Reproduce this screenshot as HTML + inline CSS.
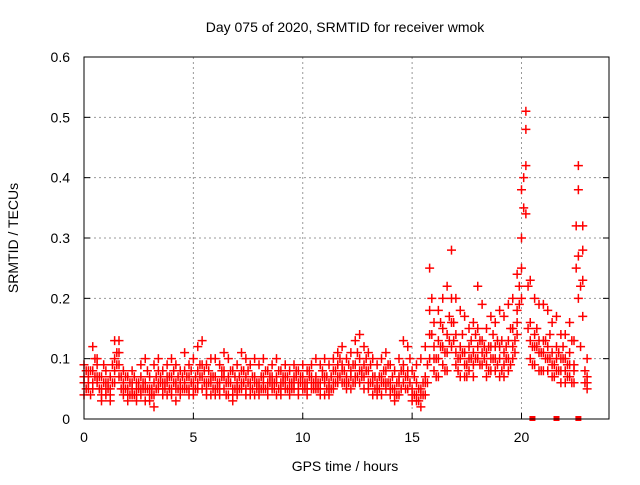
<!DOCTYPE html>
<html><head><meta charset="utf-8"><style>
body{margin:0;background:#fff;}
svg text{font-family:"Liberation Sans",sans-serif;font-size:14px;fill:#000;}
</style></head><body>
<svg id="chart" width="640" height="480" viewBox="0 0 640 480" xmlns="http://www.w3.org/2000/svg">
<text x="345" y="32" text-anchor="middle">Day 075 of 2020, SRMTID for receiver wmok</text>
<text transform="translate(18,238) rotate(-90)" text-anchor="middle">SRMTID / TECUs</text>
<text x="345" y="471" text-anchor="middle">GPS time / hours</text>
<g id="grid"></g><g id="marks"></g>
<rect x="84" y="57" width="525" height="362" fill="none" stroke="#000" stroke-width="1"/>
<g id="ticks"></g>
</svg>
<script>
const xTicks=[0,5,10,15,20];
const yTicks=[0,0.1,0.2,0.3,0.4,0.5,0.6];
const yTickLabels=["0","0.1","0.2","0.3","0.4","0.5","0.6"];
const times=[0,0.2,0.4,0.6,0.8,1,1.2,1.4,1.6,1.8,2,2.2,2.4,2.6,2.8,3,3.2,3.4,3.6,3.8,4,4.2,4.4,4.6,4.8,5,5.2,5.4,5.6,5.8,6,6.2,6.4,6.6,6.8,7,7.2,7.4,7.6,7.8,8,8.2,8.4,8.6,8.8,9,9.2,9.4,9.6,9.8,10,10.2,10.4,10.6,10.8,11,11.2,11.4,11.6,11.8,12,12.2,12.4,12.6,12.8,13,13.2,13.4,13.6,13.8,14,14.2,14.4,14.6,14.8,15,15.2,15.4,15.6,15.8,16,16.2,16.4,16.6,16.8,17,17.2,17.4,17.6,17.8,18,18.2,18.4,18.6,18.8,19,19.2,19.4,19.6,19.8,20,20.2,20.4,20.6,20.8,21,21.2,21.4,21.6,21.8,22,22.2,22.4,22.6,22.8,23];
const timesB=[0.1,0.3,0.5,0.7,0.9,1.1,1.3,1.5,1.7,1.9,2.1,2.3,2.5,2.7,2.9,3.1,3.3,3.5,3.7,3.9,4.1,4.3,4.5,4.7,4.9,5.1,5.3,5.5,5.7,5.9,6.1,6.3,6.5,6.7,6.9,7.1,7.3,7.5,7.7,7.9,8.1,8.3,8.5,8.7,8.9,9.1,9.3,9.5,9.7,9.9,10.1,10.3,10.5,10.7,10.9,11.1,11.3,11.5,11.7,11.9,12.1,12.3,12.5,12.7,12.9,13.1,13.3,13.5,13.7,13.9,14.1,14.3,14.5,14.7,14.9,15.1,15.3,15.5,15.7,15.9,16.1,16.3,16.5,16.7,16.9,17.1,17.3,17.5,17.7,17.9,18.1,18.3,18.5,18.7,18.9,19.1,19.3,19.5,19.7,19.9,20.1,20.3,20.5,20.7,20.9,21.1,21.3,21.5,21.7,21.9,22.1,22.3,22.5,22.7,22.9];
const s1=[.09,.08,.12,.10,.07,.08,.07,.13,.13,.08,.07,.08,.06,.09,.10,.07,.09,.10,.08,.09,.10,.09,.08,.11,.09,.10,.12,.13,.09,.10,.10,.09,.11,.10,.08,.09,.11,.10,.09,.10,.09,.10,.08,.09,.10,.08,.09,.08,.09,.08,.09,.08,.09,.10,.09,.10,.09,.10,.11,.12,.10,.11,.13,.14,.12,.11,.10,.09,.10,.11,.09,.08,.10,.13,.12,.08,.09,.10,.12,.25,.16,.18,.20,.22,.28,.20,.18,.17,.15,.16,.22,.19,.15,.17,.16,.18,.17,.19,.20,.24,.38,.51,.23,.20,.19,.19,.18,.16,.17,.14,.14,.16,.13,.42,.32,.10];
const s2=[.06,.07,.08,.09,.05,.06,.05,.10,.11,.06,.05,.06,.05,.07,.06,.05,.06,.08,.06,.07,.07,.06,.06,.08,.07,.06,.08,.09,.06,.07,.07,.06,.08,.07,.05,.06,.08,.07,.06,.07,.06,.07,.06,.07,.07,.06,.07,.06,.07,.06,.07,.06,.07,.07,.06,.07,.06,.08,.09,.09,.07,.08,.09,.10,.09,.08,.07,.06,.07,.08,.06,.05,.07,.09,.08,.05,.06,.05,.07,.18,.12,.13,.15,.14,.20,.14,.12,.11,.12,.11,.15,.13,.11,.12,.12,.12,.11,.13,.15,.18,.30,.42,.16,.14,.13,.13,.12,.11,.12,.10,.10,.11,.09,.27,.23,.07];
const s3=[.04,.05,.05,.06,.03,.04,.03,.06,.07,.04,.03,.04,.03,.04,.03,.03,.02,.05,.04,.04,.04,.03,.04,.05,.04,.04,.05,.05,.04,.04,.04,.04,.05,.04,.03,.04,.05,.04,.04,.04,.04,.05,.04,.05,.04,.04,.05,.04,.05,.04,.05,.04,.05,.05,.04,.04,.04,.05,.06,.06,.05,.05,.06,.06,.05,.05,.04,.04,.04,.05,.04,.03,.04,.06,.05,.03,.03,.02,.04,.10,.08,.07,.09,.08,.12,.09,.07,.07,.08,.07,.10,.09,.07,.08,.08,.07,.07,.08,.10,.14,.20,.34,.10,.09,.08,.08,.08,.07,.08,.06,.06,.07,.06,.20,.17,.05];
const s4=[.07,.06,.06,.07,.04,.05,.04,.08,.09,.05,.04,.05,.04,.05,.05,.04,.04,.06,.05,.06,.05,.05,.05,.06,.05,.05,.06,.07,.05,.06,.05,.05,.07,.06,.04,.05,.06,.05,.05,.06,.05,.06,.05,.06,.06,.05,.06,.05,.06,.05,.06,.05,.06,.06,.05,.06,.05,.06,.07,.08,.06,.07,.07,.08,.07,.06,.06,.05,.06,.06,.05,.04,.06,.08,.07,.04,.04,.04,.06,.14,.10,.10,.12,.11,.16,.11,.10,.09,.10,.09,.12,.11,.09,.10,.10,.10,.09,.10,.12,.16,.25,.48,.13,.12,.11,.11,.10,.09,.10,.08,.08,.09,.08,.38,.28,.06];
const s5=[.05,.08,.10,.07,.06,.05,.09,.11,.07,.05,.06,.04,.05,.06,.05,.04,.07,.06,.05,.07,.06,.07,.05,.07,.06,.07,.09,.08,.06,.05,.06,.07,.06,.08,.05,.07,.06,.08,.05,.06,.07,.05,.07,.06,.05,.07,.05,.06,.07,.06,.06,.07,.05,.06,.07,.05,.07,.06,.07,.08,.06,.09,.07,.08,.10,.06,.07,.05,.06,.09,.05,.06,.05,.07,.10,.04,.05,.06,.09,.14,.10,.16,.11,.17,.13,.10,.14,.09,.13,.10,.13,.10,.12,.14,.09,.13,.10,.15,.11,.19,.35,.22,.12,.15,.11,.10,.14,.09,.11,.12,.09,.13,.25,.22,.08];
const s6=[.08,.04,.07,.05,.09,.06,.06,.09,.05,.07,.04,.07,.06,.05,.08,.05,.05,.07,.06,.05,.08,.05,.07,.05,.08,.05,.07,.06,.08,.07,.05,.08,.04,.06,.07,.05,.08,.06,.07,.05,.05,.08,.06,.05,.08,.06,.07,.05,.08,.07,.05,.08,.06,.05,.08,.07,.05,.08,.10,.06,.09,.06,.11,.07,.08,.09,.05,.07,.08,.06,.07,.04,.08,.05,.06,.07,.03,.04,.06,.20,.07,.12,.08,.13,.16,.08,.11,.07,.10,.14,.09,.12,.08,.10,.13,.08,.12,.09,.13,.22,.40,.15,.09,.12,.08,.13,.10,.07,.08,.10,.07,.06,.32,.12,.06];
const gapTimes=[20.5,21.6,22.6];
const NS="http://www.w3.org/2000/svg";
const X=t=>84+t*(525/24), Y=v=>419-v*(362/0.6);
function mk(tag,attrs,parent){const e=document.createElementNS(NS,tag);for(const k in attrs)e.setAttribute(k,attrs[k]);document.getElementById(parent).appendChild(e);return e;}
xTicks.forEach(t=>{
 if(t>0){const g=mk('line',{x1:X(t),x2:X(t),y1:57,y2:419,stroke:'#999','stroke-dasharray':'2,3'},'grid');
 
 }
 const tk=mk('line',{x1:X(t),x2:X(t),y1:419,y2:413,stroke:'#000'},'ticks');
 
 
 const l=mk('text',{x:X(t),y:442,'text-anchor':'middle'},'ticks');l.textContent=t;
 
 
});
yTicks.forEach((v,i)=>{
 if(v>0&&v<0.6){const g=mk('line',{x1:84,x2:609,y1:Y(v),y2:Y(v),stroke:'#999','stroke-dasharray':'2,3'},'grid');
 
 }
 const tk=mk('line',{x1:84,x2:90,y1:Y(v),y2:Y(v),stroke:'#000'},'ticks');
 
 
 const tk2=mk('line',{x1:603,x2:609,y1:Y(v),y2:Y(v),stroke:'#000'},'ticks');
 
 
 const l=mk('text',{x:70,y:Y(v)+5,'text-anchor':'end'},'ticks');l.textContent=yTickLabels[i];
 
 
});
function plot(ts,s){
 s.forEach((v,i)=>{
  const x=X(ts[i]),y=Y(v);
  const p=mk('path',{d:`M${x-4.5},${y}h9M${x},${y-4.5}v9`,stroke:'#f00','stroke-width':1.5,fill:'none'},'marks');
  
  
 });
}
plot(times,s3);plot(times,s4);plot(timesB,s5);plot(timesB,s6);plot(times,s2);plot(times,s1);
gapTimes.forEach(t=>{
 const r=mk('rect',{x:X(t)-3,y:416,width:6,height:5,fill:'#f00'},'marks');
 
 
});
</script>
</body></html>
